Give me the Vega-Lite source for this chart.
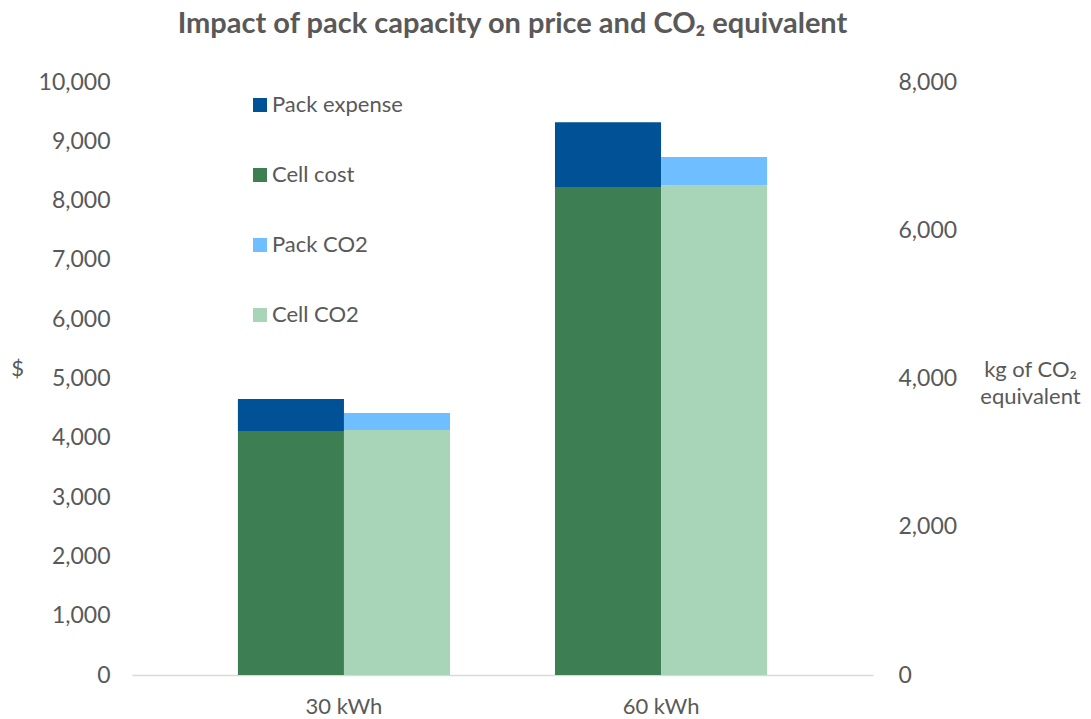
{
  "$schema": "https://vega.github.io/schema/vega-lite/v6.json",
  "width": 741,
  "height": 593,
  "autosize": "none",
  "padding": {"left": 132, "top": 82, "right": 218, "bottom": 44},
  "background": "white",
  "config": {
    "view": {"stroke": null},
    "font": "Lato",
    "axis": {"labelFont": "Lato", "titleFont": "Lato"},
    "legend": {"labelFont": "Lato"}
  },
  "title": {
    "text": "Impact of pack capacity on price and CO₂ equivalent",
    "fontSize": 29,
    "fontWeight": "bold",
    "color": "#595959",
    "anchor": "middle",
    "frame": "group",
    "dx": 10,
    "baseline": "alphabetic",
    "offset": 9
  },
  "data": {
    "values": [
      {"capacity": "30 kWh", "series": "Cell cost", "group": "Cost", "value": 4115, "ord": 1},
      {"capacity": "30 kWh", "series": "Pack expense", "group": "Cost", "value": 540, "ord": 2},
      {"capacity": "30 kWh", "series": "Cell CO2", "group": "CO2", "value": 3305, "ord": 1},
      {"capacity": "30 kWh", "series": "Pack CO2", "group": "CO2", "value": 230, "ord": 2},
      {"capacity": "60 kWh", "series": "Cell cost", "group": "Cost", "value": 8230, "ord": 1},
      {"capacity": "60 kWh", "series": "Pack expense", "group": "Cost", "value": 1090, "ord": 2},
      {"capacity": "60 kWh", "series": "Cell CO2", "group": "CO2", "value": 6605, "ord": 1},
      {"capacity": "60 kWh", "series": "Pack CO2", "group": "CO2", "value": 383, "ord": 2}
    ]
  },
  "encoding": {
    "x": {
      "field": "capacity",
      "type": "nominal",
      "sort": ["30 kWh", "60 kWh"],
      "scale": {"paddingInner": 0.331, "paddingOuter": 0.334},
      "axis": {
        "title": null,
        "labelAngle": 0,
        "labelFontSize": 22,
        "labelColor": "#595959",
        "labelPadding": 21,
        "ticks": false,
        "domain": true,
        "domainColor": "#d9d9d9",
        "domainWidth": 1.5,
        "grid": false
      }
    },
    "xOffset": {
      "field": "group",
      "type": "nominal",
      "scale": {"domain": ["Cost", "CO2"], "paddingInner": 0, "paddingOuter": 0}
    },
    "color": {
      "field": "series",
      "type": "nominal",
      "scale": {
        "domain": ["Pack expense", "Cell cost", "Pack CO2", "Cell CO2"],
        "range": ["#005196", "#3e7e53", "#6fbeff", "#a8d5b7"]
      },
      "legend": {
        "orient": "none",
        "legendX": 117,
        "legendY": 12,
        "title": null,
        "padding": 0,
        "symbolType": "square",
        "symbolSize": 196,
        "symbolStrokeWidth": 0,
        "rowPadding": 48,
        "labelFontSize": 22,
        "labelColor": "#595959",
        "labelOffset": 1
      }
    },
    "order": {"field": "ord", "type": "quantitative"}
  },
  "layer": [
    {
      "transform": [{"filter": "datum.group === 'Cost'"}],
      "mark": {"type": "bar"},
      "encoding": {
        "y": {
          "field": "value",
          "type": "quantitative",
          "stack": "zero",
          "scale": {"domain": [0, 10000], "nice": false},
          "axis": {
            "orient": "left",
            "values": [0, 1000, 2000, 3000, 4000, 5000, 6000, 7000, 8000, 9000, 10000],
            "format": ",.0f",
            "domain": false,
            "ticks": false,
            "grid": false,
            "labelFontSize": 23,
            "labelColor": "#595959",
            "labelPadding": 22,
            "title": "$",
            "titleAngle": 0,
            "titleFontSize": 22,
            "titleFontWeight": "normal",
            "titleColor": "#595959",
            "titleX": -115,
            "titleY": 286,
            "titleAlign": "center",
            "titleBaseline": "middle"
          }
        }
      }
    },
    {
      "transform": [{"filter": "datum.group === 'CO2'"}],
      "mark": {"type": "bar"},
      "encoding": {
        "y": {
          "field": "value",
          "type": "quantitative",
          "stack": "zero",
          "scale": {"domain": [0, 8000], "nice": false},
          "axis": {
            "orient": "right",
            "values": [0, 2000, 4000, 6000, 8000],
            "format": ",.0f",
            "domain": false,
            "ticks": false,
            "grid": false,
            "labelFontSize": 23,
            "labelColor": "#595959",
            "labelPadding": 25,
            "title": ["kg of CO₂", "equivalent"],
            "titleAngle": 0,
            "titleFontSize": 22,
            "titleFontWeight": "normal",
            "titleColor": "#595959",
            "titleLineHeight": 27,
            "titleX": 157,
            "titleY": 277,
            "titleAlign": "center",
            "titleBaseline": "top"
          }
        }
      }
    }
  ],
  "resolve": {"scale": {"y": "independent"}}
}
